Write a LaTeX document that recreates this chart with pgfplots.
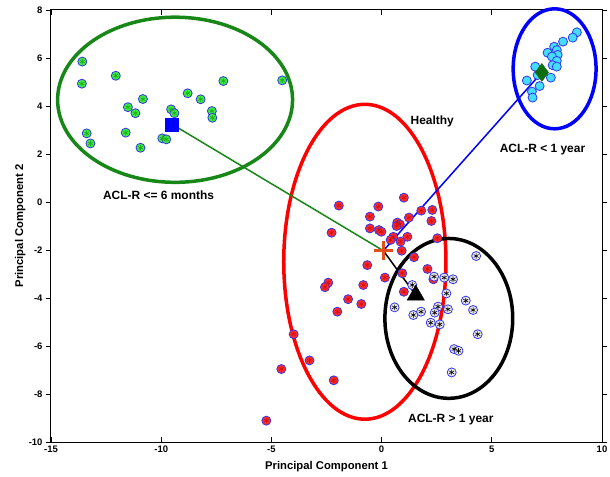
\documentclass[border=0pt]{standalone}
\usepackage{pgfplots}
\pgfplotsset{compat=1.18}
\usepackage{pgfplotstable}
\usepackage{fontspec}
\setmainfont{Liberation Sans}

\definecolor{cEdge}{HTML}{3535E8}
\definecolor{cRed}{HTML}{FF2A2A}
\definecolor{cRedS}{HTML}{D01010}
\definecolor{cGreen}{HTML}{3CEE3C}
\definecolor{cGreenS}{HTML}{1FA81F}
\definecolor{cCyan}{HTML}{45DDFF}
\definecolor{cDkGreen}{HTML}{178717}
\definecolor{cDiamond}{HTML}{0E6E0E}
\definecolor{cPlus}{HTML}{E24E1C}

% ACL-R <= 6 months
\pgfplotstableread{
x y
-13.58 5.85
-13.60 4.93
-12.06 5.26
-11.51 3.95
-11.17 3.70
-10.83 4.29
-13.38 2.86
-13.21 2.44
-11.61 2.89
-10.94 2.26
-9.95 2.65
-9.77 2.61
-9.55 3.86
-9.40 3.70
-8.80 4.53
-8.21 4.28
-7.70 3.79
-7.68 3.51
-7.18 5.04
-4.51 5.07
}\sixm

% ACL-R < 1 year
\pgfplotstableread{
x y
8.86 7.07
8.67 6.85
8.23 6.68
7.83 6.47
7.95 6.33
7.53 6.22
7.99 6.13
7.73 6.06
7.95 5.88
7.76 5.70
7.95 5.64
6.97 5.64
7.68 5.18
6.59 5.06
7.17 4.83
6.82 4.60
6.85 4.35
7.08 5.29
}\oney

% Healthy
\pgfplotstableread{
x y
1.01 0.18
-1.94 -0.15
-0.15 -0.19
-0.53 -0.61
1.24 -0.65
1.80 -0.36
2.30 -0.33
2.26 -0.79
-0.53 -1.10
-0.12 -1.17
-0.01 -1.24
0.71 -0.86
0.83 -0.93
0.68 -1.00
1.17 -1.45
0.53 -1.45
0.41 -1.58
0.86 -1.65
2.53 -1.51
0.91 -2.03
1.47 -2.30
-0.65 -2.63
2.08 -2.79
-2.27 -1.28
0.94 -2.97
0.15 -3.15
2.35 -3.22
-2.42 -3.36
-2.57 -3.55
-0.83 -3.46
1.01 -3.74
-1.52 -4.05
-0.92 -4.25
-2.01 -4.57
-3.99 -5.51
-3.27 -6.60
-4.55 -6.96
-2.17 -7.43
-5.23 -9.11
}\healthy

% ACL-R > 1 year
\pgfplotstableread{
x y
4.29 -2.25
2.38 -3.11
2.84 -3.15
3.24 -3.22
1.39 -3.46
2.94 -3.81
0.59 -4.39
1.44 -4.71
1.79 -4.57
2.56 -4.36
2.41 -4.61
3.01 -4.47
3.82 -4.11
4.15 -4.50
2.23 -5.03
2.64 -5.10
4.36 -5.51
3.29 -6.13
3.49 -6.20
3.18 -7.10
}\overy

\begin{document}
\begin{tikzpicture}
\useasboundingbox (-51bp,-35bp) rectangle (559bp,442bp);
\begin{axis}[
  scale only axis, width=551bp, height=432bp,
  at={(0,0)}, anchor=south west,
  xmin=-15, xmax=10, ymin=-10, ymax=8,
  xtick={-15,-10,-5,0,5,10}, ytick={-10,-8,-6,-4,-2,0,2,4,6,8},
  xtick align=inside, ytick align=outside,
  major tick length=5bp,
  tick style={black, line width=0.8bp},
  axis line style={line width=1bp},
  tick label style={font=\bfseries\fontsize{9.5}{9.5}\selectfont},
  /pgf/number format/assume math mode=true,
  xlabel={Principal Component 1}, ylabel={Principal Component 2},
  label style={font=\bfseries\fontsize{11.3}{11.3}\selectfont},
  xlabel style={at={(axis description cs:0.5,-0.058)}, anchor=center},
  ylabel style={at={(axis description cs:-0.056,0.5)}, anchor=center},
  clip=false,
]
% cluster ellipses
\draw[line width=3.5bp, cDkGreen] (axis cs:-9.37,4.26) ellipse [x radius=5.33, y radius=3.44];
\draw[line width=3.5bp, blue] (axis cs:7.85,5.55) ellipse [x radius=1.88, y radius=2.50];
\draw[line width=3.5bp, red] (axis cs:-0.76,-2.49) ellipse [x radius=3.68, y radius=6.56];
\draw[line width=3.5bp, black] (axis cs:3.05,-4.85) ellipse [x radius=2.90, y radius=3.33];

% subjects: circle + asterisk
\addplot[only marks, mark=*, mark size=4.5bp, mark options={draw=cEdge, fill=cGreen, line width=0.8bp}] table {\sixm};
\addplot[only marks, mark=asterisk, mark size=2.8bp, mark options={draw=cGreenS, line width=0.6bp}] table {\sixm};
\addplot[only marks, mark=*, mark size=4.5bp, mark options={draw=cEdge, fill=cCyan, line width=0.8bp}] table {\oney};
\addplot[only marks, mark=*, mark size=4.5bp, mark options={draw=cEdge, fill=cRed, line width=0.8bp}] table {\healthy};
\addplot[only marks, mark=asterisk, mark size=2.8bp, mark options={draw=cRedS, line width=0.6bp}] table {\healthy};
\addplot[only marks, mark=*, mark size=4.5bp, mark options={draw=cEdge, fill=white!92!black, line width=0.8bp}] table {\overy};
\addplot[only marks, mark=asterisk, mark size=2.8bp, mark options={draw=black, line width=0.6bp}] table {\overy};

% links between group centroids
\addplot[cDkGreen, line width=1.5bp] coordinates {(-9.51,3.24) (0.08,-2.03)};
\addplot[blue, line width=1.5bp] coordinates {(0.08,-2.03) (7.27,5.40)};
\addplot[black, line width=1.5bp] coordinates {(0.08,-2.03) (1.55,-3.88)};

% centroids
\addplot[only marks, mark=square*, mark size=6.5bp, mark options={draw=blue, fill=blue}] coordinates {(-9.51,3.24)};
\addplot[only marks, mark=diamond*, mark size=9bp, mark options={draw=cDiamond, fill=cDiamond}] coordinates {(7.27,5.40)};
\addplot[only marks, mark=triangle*, mark size=10bp, mark options={draw=black, fill=black}] coordinates {(1.55,-3.88)};
\addplot[only marks, mark=+, mark size=9.5bp, mark options={draw=cPlus, line width=3bp}] coordinates {(0.08,-2.03)};

% group labels
\node[font=\bfseries\fontsize{12}{12}\selectfont] at (axis cs:2.30,3.35) {Healthy};
\node[font=\bfseries\fontsize{12}{12}\selectfont] at (axis cs:-10.12,0.29) {ACL-R <= 6 months};
\node[font=\bfseries\fontsize{12}{12}\selectfont] at (axis cs:7.30,2.17) {ACL-R < 1 year};
\node[font=\bfseries\fontsize{12}{12}\selectfont] at (axis cs:3.14,-9.08) {ACL-R > 1 year};
\end{axis}
\end{tikzpicture}
\end{document}
